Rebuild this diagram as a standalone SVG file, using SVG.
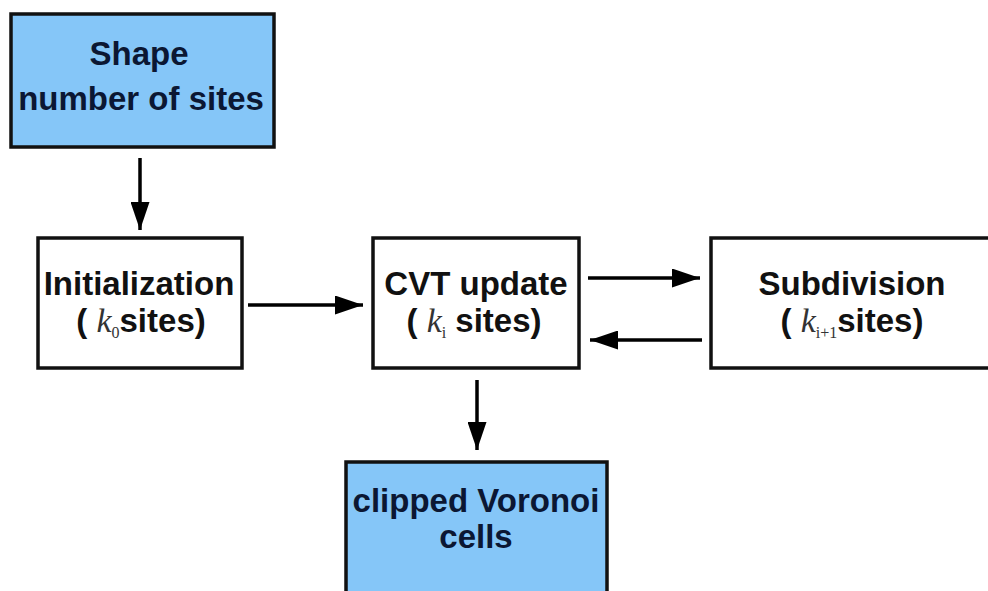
<svg xmlns="http://www.w3.org/2000/svg" width="988" height="591" viewBox="0 0 988 591">
<defs>
<style>
.box{fill:#ffffff;stroke:#111111;stroke-width:3.5}
.blue{fill:#85c6f8;stroke:#111111;stroke-width:3.5}
.t{font-family:"Liberation Sans",Arial,sans-serif;font-weight:bold;font-size:33px;text-anchor:middle;fill:#111111}
.tb{fill:#0b1733}
.k{font-family:"Liberation Serif","Times New Roman",serif;font-style:italic;font-weight:normal;font-size:34px;fill:#333333}
.sub{font-family:"Liberation Serif","Times New Roman",serif;font-weight:normal;font-size:16px;fill:#333333}
.edge{stroke:#000000;stroke-width:3.5;fill:none;marker-end:url(#ah)}
</style>
<marker id="ah" viewBox="0 0 10 10" refX="10" refY="5" markerUnits="userSpaceOnUse" markerWidth="28" markerHeight="19" orient="auto" preserveAspectRatio="none">
<path d="M0,0 L10,5 L0,10 z" fill="#000000"/>
</marker>
</defs>
<rect width="988" height="591" fill="#ffffff"/>
<g id="n-shape">
<rect class="blue" x="11" y="14" width="263" height="133"/>
<text class="t tb" x="139" y="65">Shape</text>
<text class="t tb" x="141" y="110">number of sites</text>
</g>
<g id="n-init">
<rect class="box" x="38" y="238" width="204" height="130"/>
<text class="t" x="139" y="295">Initialization</text>
<text class="t" x="141" y="332">( <tspan class="k">k</tspan><tspan class="sub" dy="6">0</tspan><tspan dy="-6">sites)</tspan></text>
</g>
<g id="n-cvt">
<rect class="box" x="373" y="238" width="206" height="130"/>
<text class="t" x="476" y="295">CVT update</text>
<text class="t" x="474" y="332">( <tspan class="k">k</tspan><tspan class="sub" dy="6">i</tspan><tspan dy="-6"> sites)</tspan></text>
</g>
<g id="n-sub">
<rect class="box" x="711" y="238" width="290" height="130"/>
<text class="t" x="852" y="295">Subdivision</text>
<text class="t" x="852" y="332">( <tspan class="k">k</tspan><tspan class="sub" dy="6">i+1</tspan><tspan dy="-6">sites)</tspan></text>
</g>
<g id="n-clip">
<rect class="blue" x="346" y="462" width="261" height="140"/>
<text class="t tb" x="476" y="512">clipped Voronoi</text>
<text class="t tb" x="476" y="548">cells</text>
</g>
<g id="connectors">
<line class="edge" x1="140" y1="158" x2="140" y2="230"/>
<line class="edge" x1="248" y1="305" x2="363" y2="305"/>
<line class="edge" x1="588" y1="278" x2="700" y2="278"/>
<line class="edge" x1="702" y1="340" x2="590" y2="340"/>
<line class="edge" x1="477" y1="380" x2="477" y2="450"/>
</g>
</svg>
